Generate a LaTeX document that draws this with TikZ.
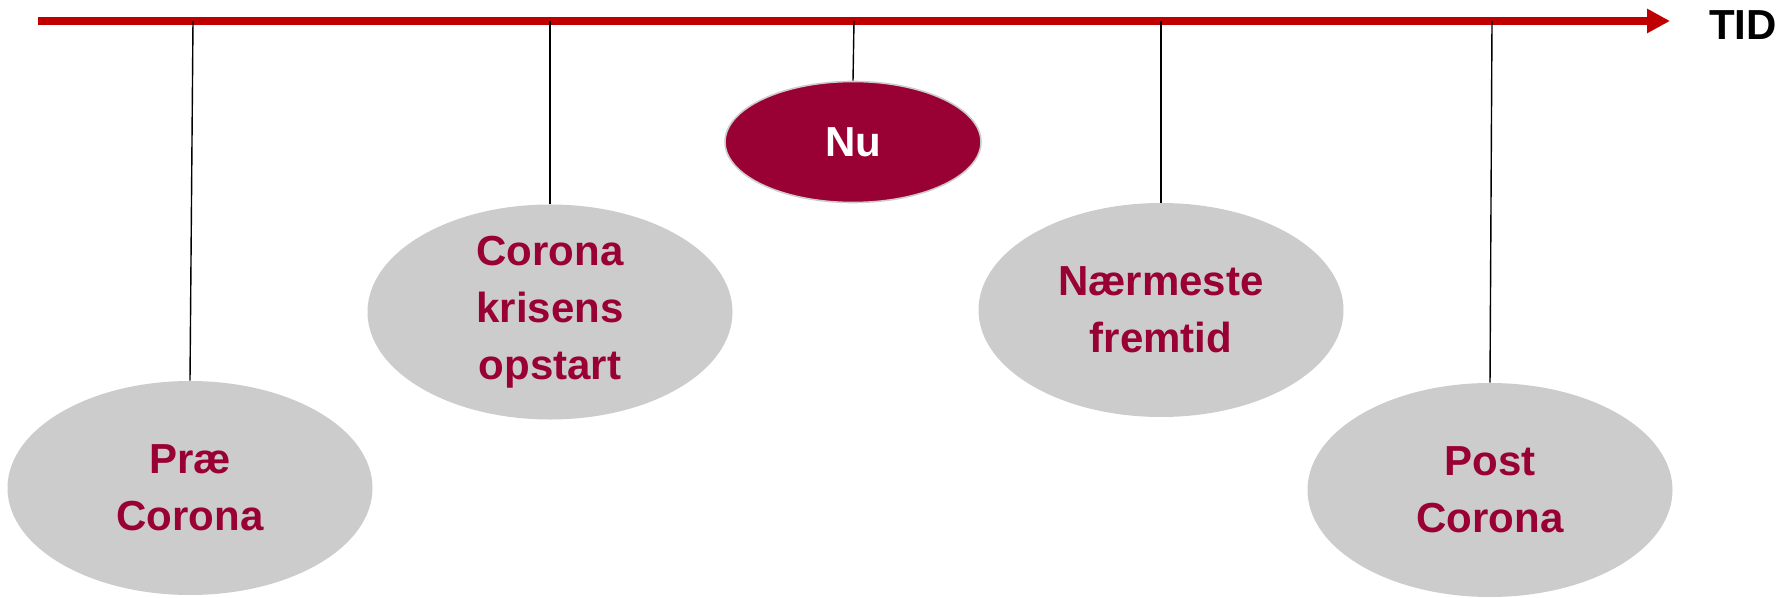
\documentclass[tikz,border=0pt]{standalone}
\usepackage{fontspec}
\setmainfont{Liberation Sans}
\usetikzlibrary{shapes.geometric,arrows.meta}
\definecolor{phasegray}{HTML}{CCCCCC}
\definecolor{phasered}{HTML}{990033}
\definecolor{axisred}{HTML}{C00000}
\tikzset{
  phase/.style={ellipse, fill=phasegray, minimum width=182.5pt, minimum height=107pt,
    inner sep=0pt, text=phasered, align=center,
    font=\fontsize{21}{28.5}\selectfont\bfseries},
  now/.style={ellipse, fill=phasered, draw=phasegray, line width=0.8pt,
    minimum width=128pt, minimum height=60.5pt, inner sep=0pt, text=white,
    font=\fontsize{21}{25}\selectfont\bfseries},
  hang/.style={black, line width=0.7pt}
}
\begin{document}
\begin{tikzpicture}[x=0.5pt, y=-0.5pt]
\useasboundingbox (0,0) rectangle (1787,598);

% tidslinje
\coordinate (start) at (38,21);
\coordinate (slut) at (1670,21);
\draw[axisred, line width=4pt, -{Triangle[length=11.5pt, width=11.5pt]}] (start) -- (slut);
\node[anchor=west, font=\fontsize{21}{25}\selectfont\bfseries] (tid) at (1702,25) {TID};

% faser
\node[phase] (pre) at (190,488) {Præ\\Corona};
\node[phase] (start) at (550,312) {Corona\\krisens\\opstart};
\node[now] (nu) at (853,142) {Nu};
\node[phase] (naer) at (1161,310) {Nærmeste\\fremtid};
\node[phase] (post) at (1490,490) {Post\\Corona};

% ophæng
\coordinate (t1) at (193,21);
\coordinate (t2) at (550,21);
\coordinate (t3) at (854,21);
\coordinate (t4) at (1161,21);
\coordinate (t5) at (1492,21);
\draw[hang] (t1) -- (pre.north);
\draw[hang] (t2) -- (start.north);
\draw[hang] (t3) -- (nu.north);
\draw[hang] (t4) -- (naer.north);
\draw[hang] (t5) -- (post.north);
\end{tikzpicture}
\end{document}
